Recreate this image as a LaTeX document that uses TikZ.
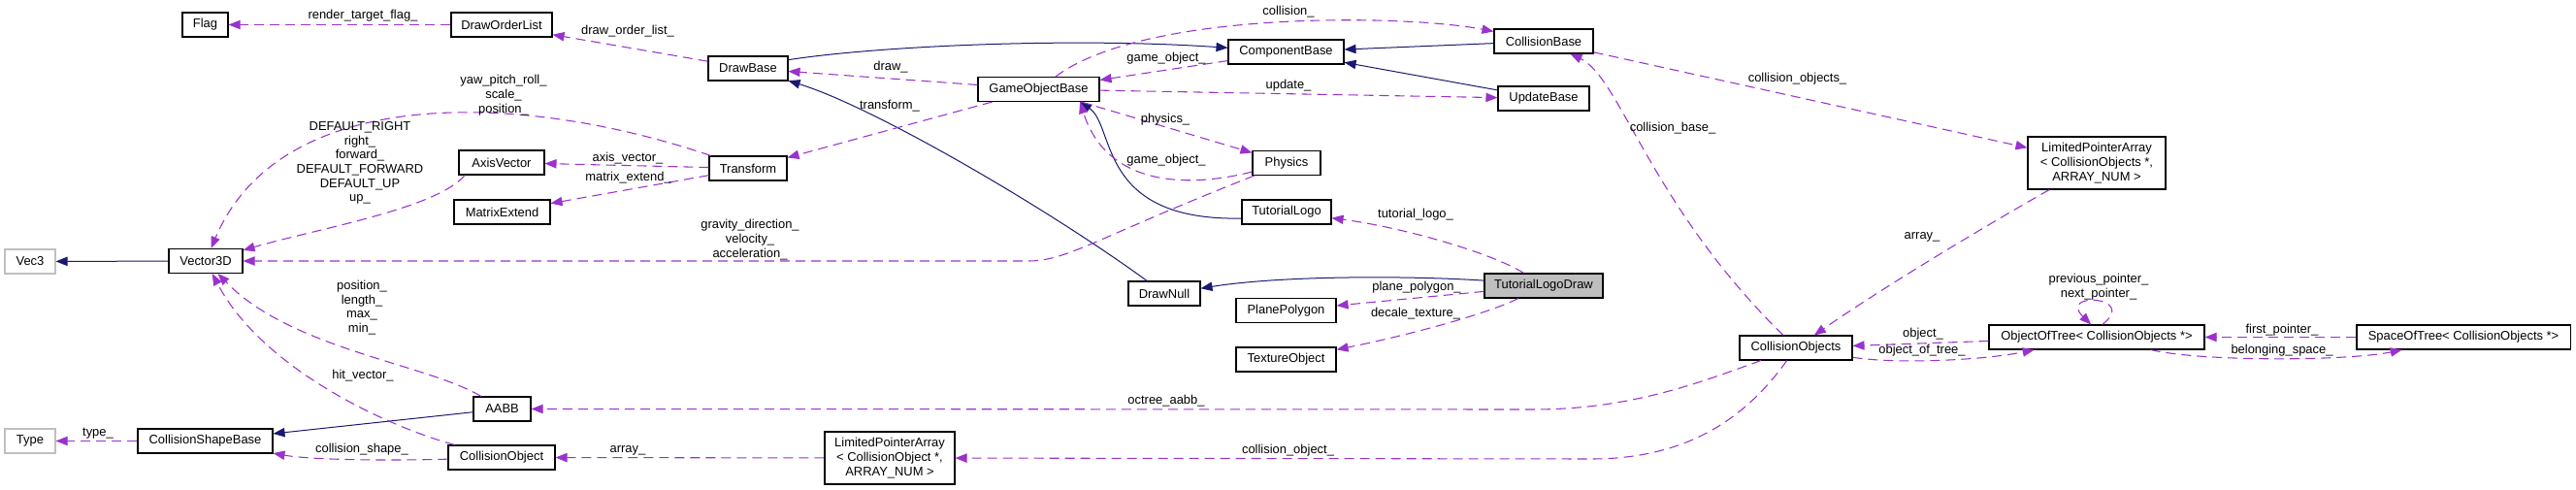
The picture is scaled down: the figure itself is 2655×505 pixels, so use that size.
\documentclass[tikz,border=0pt]{standalone}
\usepackage{fontspec}
\setmainfont{Liberation Sans}
\usetikzlibrary{arrows.meta}
\definecolor{usecol}{HTML}{9A32CD}
\definecolor{inhcol}{HTML}{191970}
\definecolor{boxgray}{HTML}{BFBFBF}
\tikzset{
  cls/.style={rectangle, draw=black, line width=0.8pt, fill=white, minimum height=18.75pt, inner sep=0pt, align=center, font=\fontsize{9.7}{11}\selectfont},
  tall/.style={minimum height=40.5pt},
  ext/.style={draw=boxgray},
  cur/.style={fill=boxgray},
  wd/.style={minimum width=#1*0.75pt},
  lbl/.style={inner sep=0pt, align=center, font=\fontsize{9.7}{11}\selectfont},
  uses/.style={-{Triangle[length=9pt, width=7pt]}, usecol, line width=0.8pt, dash pattern=on 7.5pt off 4.5pt},
  inh/.style={-{Triangle[length=9pt, width=7pt]}, inhcol, line width=0.75pt},
}

\begin{document}
\begin{tikzpicture}[x=0.75pt, y=-0.75pt]
  \useasboundingbox (0,0) rectangle (2655,505);

  \node[cls, wd=47] (flag) at (211.5,25.5) {Flag};
  \node[cls, wd=104] (draworder) at (517,25.5) {DrawOrderList};
  \node[cls, wd=82] (drawbase) at (771,70.5) {DrawBase};
  \node[cls, wd=88] (axis) at (517,167.5) {AxisVector};
  \node[cls, wd=99] (matrix) at (517.5,218.5) {MatrixExtend};
  \node[cls, wd=80] (transform) at (771,173.5) {Transform};
  \node[cls, ext, wd=52] (vec3) at (31,269.5) {Vec3};
  \node[cls, wd=76] (vector) at (212,269) {Vector3D};
  \node[cls, ext, wd=52] (type) at (31,454.5) {Type};
  \node[cls, wd=139] (shapebase) at (211.5,454.5) {CollisionShapeBase};
  \node[cls, wd=59] (aabb) at (517.5,421.5) {AABB};
  \node[cls, wd=110] (collobj) at (517,471.5) {CollisionObject};
  \node[cls, tall, wd=134] (arrayobj) at (917,472) {LimitedPointerArray\\< CollisionObject *,\\ ARRAY\_NUM >};
  \node[cls, wd=125] (gameobj) at (1070.5,92) {GameObjectBase};
  \node[cls, wd=119] (component) at (1325.5,53.5) {ComponentBase};
  \node[cls, wd=102] (collbase) at (1591,42.5) {CollisionBase};
  \node[cls, wd=94] (update) at (1591,101.5) {UpdateBase};
  \node[cls, wd=70] (physics) at (1326,168) {Physics};
  \node[cls, wd=92] (logo) at (1326,218.5) {TutorialLogo};
  \node[cls, wd=74] (drawnull) at (1200,302.5) {DrawNull};
  \node[cls, wd=103] (plane) at (1325.5,320) {PlanePolygon};
  \node[cls, wd=103] (texture) at (1325.5,370.5) {TextureObject};
  \node[cls, cur, wd=122] (logodraw) at (1591,294.5) {TutorialLogoDraw};
  \node[cls, tall, wd=142] (arrayobjs) at (2161,168) {LimitedPointerArray\\< CollisionObjects *,\\ ARRAY\_NUM >};
  \node[cls, wd=116] (collobjs) at (1851,358.5) {CollisionObjects};
  \node[cls, wd=222] (treeobj) at (2161,347.5) {ObjectOfTree< CollisionObjects *>};
  \node[cls, wd=220] (treespace) at (2539,347.5) {SpaceOfTree< CollisionObjects *>};

  \draw[inh] (vector) -- (vec3);
  \draw[inh] (drawbase.12) .. controls (900,48) and (1100,38) .. (component.176);
  \draw[inh] (drawnull) .. controls (1080,215) and (900,110) .. (drawbase);
  \draw[inh] (logodraw.175) .. controls (1450,284) and (1320,284) .. (drawnull.8);
  \draw[inh] (collbase) -- (component);
  \draw[inh] (update) -- (component);
  \draw[inh] (logo.188) .. controls (1130,228) and (1150,130) .. (gameobj.-17);
  \draw[inh] (aabb) -- (shapebase);

  \draw[uses] (draworder) -- (flag);
  \node[lbl] (l-flag) at (374,16.5) {render\_target\_flag\_};
  \draw[uses] (drawbase.170) -- (draworder.-11);
  \node[lbl] (l-order) at (647,32) {draw\_order\_list\_};
  \draw[uses] (transform) .. controls (540,95) and (290,85) .. (vector);
  \node[lbl] (l-transform) at (519,98) {yaw\_pitch\_roll\_\\scale\_\\position\_};
  \draw[uses] (axis.199) .. controls (450,215) and (330,235) .. (vector);
  \node[lbl] (l-axis) at (371,168) {DEFAULT\_RIGHT\\right\_\\forward\_\\DEFAULT\_FORWARD\\DEFAULT\_UP\\up\_};
  \draw[uses] (transform) -- (axis);
  \node[lbl] (l-axisvec) at (647,163) {axis\_vector\_};
  \draw[uses] (transform) -- (matrix);
  \node[lbl] (l-matrix) at (647.5,183) {matrix\_extend\_};
  \draw[uses] (physics) .. controls (1130,245) and (1100,269) .. (1060,269) -- (vector);
  \node[lbl] (l-physics) at (773,247) {gravity\_direction\_\\velocity\_\\acceleration\_};
  \draw[uses] (gameobj) -- (drawbase);
  \node[lbl] (l-draw) at (918,69) {draw\_};
  \draw[uses] (gameobj) -- (transform);
  \node[lbl] (l-trans) at (917,109) {transform\_};
  \draw[uses] (component) -- (gameobj);
  \node[lbl] (l-game1) at (1202,60) {game\_object\_};
  \draw[uses] (gameobj) .. controls (1180,10) and (1450,15) .. (collbase);
  \node[lbl] (l-coll) at (1328,12) {collision\_};
  \draw[uses] (gameobj) -- (update);
  \node[lbl] (l-update) at (1328,88) {update\_};
  \draw[uses] (gameobj) -- (physics);
  \node[lbl] (l-phys) at (1201,123) {physics\_};
  \draw[uses] (physics) .. controls (1220,195) and (1140,190) .. (gameobj.-17);
  \node[lbl] (l-game2) at (1202,165) {game\_object\_};
  \draw[uses] (logodraw) .. controls (1540,262) and (1450,235) .. (logo);
  \node[lbl] (l-logo) at (1459,221) {tutorial\_logo\_};
  \draw[uses] (logodraw) -- (plane);
  \node[lbl] (l-plane) at (1460,296) {plane\_polygon\_};
  \draw[uses] (logodraw) .. controls (1530,325) and (1440,348) .. (texture);
  \node[lbl] (l-texture) at (1459,323) {decale\_texture\_};
  \draw[uses] (collobjs) .. controls (1700,210) and (1670,80) .. (collbase);
  \node[lbl] (l-collbase) at (1724,132) {collision\_base\_};
  \draw[uses] (collbase) -- (arrayobjs);
  \node[lbl] (l-collobjs) at (1852.5,81) {collision\_objects\_};
  \draw[uses] (arrayobjs) .. controls (2060,225) and (1950,290) .. (collobjs);
  \node[lbl] (l-array1) at (1981,244) {array\_};
  \draw[uses] (treeobj) -- (collobjs);
  \node[lbl] (l-object) at (1982,344) {object\_};
  \draw[uses] (collobjs) .. controls (1950,375) and (2040,372) .. (treeobj);
  \node[lbl] (l-oftree) at (1981,361) {object\_of\_tree\_};
  \draw[uses] (treeobj.66) .. controls (2205,305) and (2120,300) .. (treeobj.114);
  \node[lbl] (l-pointer) at (2163,295.5) {previous\_pointer\_\\next\_pointer\_};
  \draw[uses] (treespace) -- (treeobj);
  \node[lbl] (l-first) at (2352,340) {first\_pointer\_};
  \draw[uses] (treeobj) .. controls (2270,373) and (2420,372) .. (treespace);
  \node[lbl] (l-space) at (2352,361) {belonging\_space\_};
  \draw[uses] (collobjs) .. controls (1750,395) and (1680,422) .. (1580,422) -- (aabb);
  \node[lbl] (l-octree) at (1202,413) {octree\_aabb\_};
  \draw[uses] (collobjs) .. controls (1800,430) and (1740,473) .. (1640,473) -- (arrayobj);
  \node[lbl] (l-collobj) at (1327.5,464) {collision\_object\_};
  \draw[uses] (arrayobj) -- (collobj);
  \node[lbl] (l-array2) at (647,464) {array\_};
  \draw[uses] (aabb) .. controls (440,375) and (300,360) .. (vector);
  \node[lbl] (l-aabb) at (373,317) {position\_\\length\_\\max\_\\min\_};
  \draw[uses] (collobj) .. controls (400,440) and (270,380) .. (vector);
  \node[lbl] (l-hit) at (374,387) {hit\_vector\_};
  \draw[uses] (shapebase) -- (type);
  \node[lbl] (l-type) at (101,447) {type\_};
  \draw[uses] (collobj) .. controls (400,475) and (320,474) .. (shapebase);
  \node[lbl] (l-shape) at (373,463) {collision\_shape\_};
\end{tikzpicture}
\end{document}
